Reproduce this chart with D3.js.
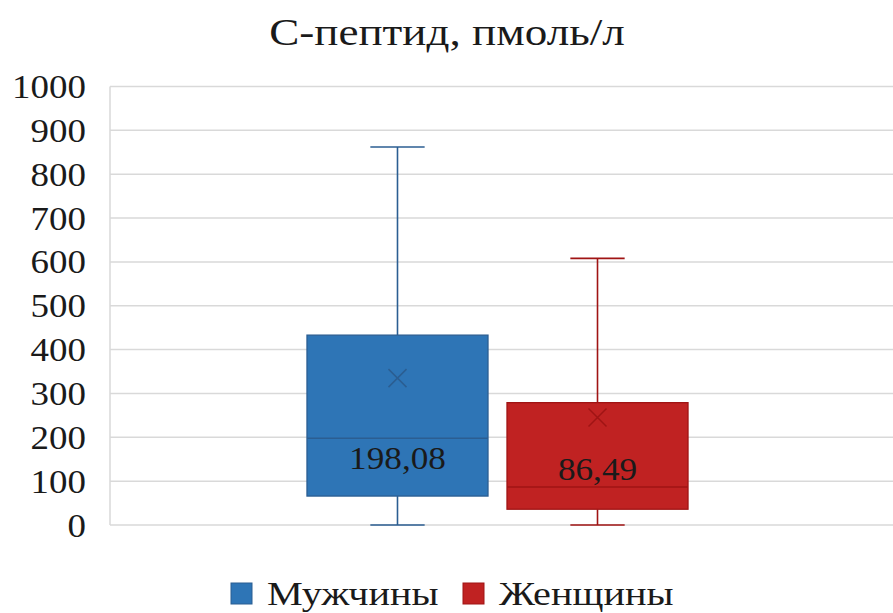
<!DOCTYPE html>
<html>
<head>
<meta charset="utf-8">
<script src="https://cdn.jsdelivr.net/npm/d3@7"></script>
<style>
  html, body { margin: 0; padding: 0; background: #fff; }
  svg { display: block; }
</style>
</head>
<body>
<svg id="chart" width="893" height="613"></svg>
<script>
// C-peptide distribution, pmol/L, by sex
const category = "С-пептид";
const series = ["Мужчины", "Женщины"];
const mins    = [0, 0];
const q1s     = [66, 36];
const medians = [198.08, 86.49];
const q3s     = [433, 279];
const maxs    = [862, 608];
const means   = [335, 245];
const medianLabels = ["198,08", "86,49"];
const yTicks = [0, 100, 200, 300, 400, 500, 600, 700, 800, 900, 1000];

const fills   = ["#2E75B6", "#C02222"];
const strokes = ["#2B5E92", "#A01414"];

const W = 893, H = 613;
const plot = { left: 110, right: 885, top: 86.5, bottom: 525 };
const FONT = "'Liberation Serif', 'Times New Roman', Times, serif";

const svg = d3.select("#chart");

const y = d3.scaleLinear().domain([0, 1000]).range([plot.bottom, plot.top]);
const xCat = d3.scaleBand().domain([category]).range([plot.left, plot.right]).paddingOuter(0.517);
const xSer = d3.scaleBand().domain(series)
  .range([xCat(category), xCat(category) + xCat.bandwidth()])
  .paddingInner(0.095);

// serif text, widened horizontally by sx
function stretchedText(g, x, yy, txt, size, anchor, sx) {
  return g.append("text")
    .attr("transform", `translate(${x},${yy}) scale(${sx},1)`)
    .attr("text-anchor", anchor)
    .style("font-family", FONT)
    .attr("font-size", size)
    .attr("fill", "#1a1a1a")
    .text(txt);
}

// gridlines
svg.append("g").selectAll("line").data(yTicks).join("line")
  .attr("x1", plot.left).attr("x2", W)
  .attr("y1", d => y(d)).attr("y2", d => y(d))
  .attr("stroke", "#d9d9d9").attr("stroke-width", 1.5);
// left frame line
svg.append("line")
  .attr("x1", plot.left).attr("x2", plot.left)
  .attr("y1", y(1000)).attr("y2", y(0))
  .attr("stroke", "#d9d9d9").attr("stroke-width", 1.5);

// y axis labels
const axisG = svg.append("g");
yTicks.forEach(t => stretchedText(axisG, 86, y(t) + 11.5, String(t), 33, "end", 1.12));

// title
stretchedText(svg, 447, 45, "С-пептид, пмоль/л", 37, "middle", 1.22);

// boxes
const boxes = svg.append("g");
series.forEach((s, i) => {
  const g = boxes.append("g");
  const x0 = xSer(s), bw = xSer.bandwidth(), cx = x0 + bw / 2;
  const cap = bw * 0.3;
  // whiskers
  g.append("line").attr("x1", cx).attr("x2", cx).attr("y1", y(maxs[i])).attr("y2", y(q3s[i]))
    .attr("stroke", strokes[i]).attr("stroke-width", 1.6);
  g.append("line").attr("x1", cx).attr("x2", cx).attr("y1", y(q1s[i])).attr("y2", y(mins[i]))
    .attr("stroke", strokes[i]).attr("stroke-width", 1.6);
  [maxs[i], mins[i]].forEach(v => g.append("line")
    .attr("x1", cx - cap / 2).attr("x2", cx + cap / 2).attr("y1", y(v)).attr("y2", y(v))
    .attr("stroke", strokes[i]).attr("stroke-width", 1.6));
  // box
  g.append("rect").attr("x", x0).attr("width", bw)
    .attr("y", y(q3s[i])).attr("height", y(q1s[i]) - y(q3s[i]))
    .attr("fill", fills[i]).attr("stroke", strokes[i]).attr("stroke-width", 1.3);
  // median line
  g.append("line").attr("x1", x0).attr("x2", x0 + bw).attr("y1", y(medians[i])).attr("y2", y(medians[i]))
    .attr("stroke", strokes[i]).attr("stroke-width", 1.5);
  // mean marker
  const m = 9, my = y(means[i]);
  g.append("path").attr("d", `M${cx - m},${my - m}L${cx + m},${my + m}M${cx - m},${my + m}L${cx + m},${my - m}`)
    .attr("stroke", strokes[i]).attr("stroke-width", 1.5).attr("fill", "none");
  // median value label: below the line when the lower half has room
  const below = y(q1s[i]) - y(medians[i]) > 40;
  const ly = below ? y(medians[i]) + 31 : y(medians[i]) - 7;
  stretchedText(g, cx, ly, medianLabels[i], 32, "middle", 1.1);
});

// legend
const legend = svg.append("g");
const legendX = [231, 463];
series.forEach((s, i) => {
  legend.append("rect").attr("x", legendX[i]).attr("y", 583).attr("width", 21).attr("height", 21)
    .attr("fill", fills[i]).attr("stroke", strokes[i]).attr("stroke-width", 1);
  stretchedText(legend, legendX[i] + 36, 605, s, 33, "start", 1.22);
});
</script>
</body>
</html>
